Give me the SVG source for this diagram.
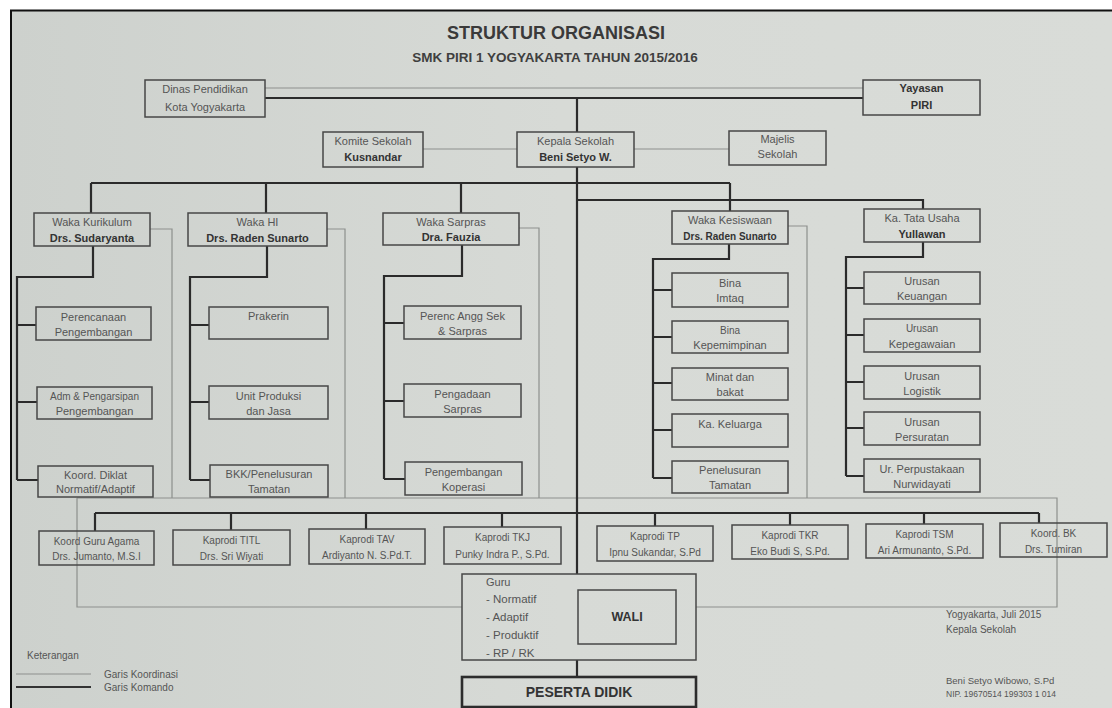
<svg xmlns="http://www.w3.org/2000/svg" width="1112" height="708" viewBox="0 0 1112 708">
<defs>
<linearGradient id="paper" x1="0" y1="0" x2="1" y2="0">
<stop offset="0" stop-color="#cdd1cd"/>
<stop offset="0.5" stop-color="#d7dad6"/>
<stop offset="1" stop-color="#d9dcd8"/>
</linearGradient>
<style>
.box{fill:none;stroke:#474747;stroke-width:1.5}
.thick{fill:none;stroke:#2c2c2c;stroke-width:2.6}
.cmd{fill:none;stroke:#2b2b2b;stroke-width:2.2}
.crd{fill:none;stroke:#8d908d;stroke-width:1.2}
text{font-family:"Liberation Sans",Arial,sans-serif;font-size:11px;fill:#555;text-anchor:middle}
.b{font-weight:bold;fill:#333}
.l{text-anchor:start}
.sm{font-size:10px}
</style>
</defs>
<rect width="1112" height="708" fill="#ffffff"/>
<rect x="11" y="10" width="1101" height="698" fill="url(#paper)"/>
<path d="M10,10.5 H1112 M11,10 V708" stroke="#111" stroke-width="2" fill="none"/>

<g id="title">
<text x="556" y="39" class="b" style="font-size:18px;fill:#3a3a3a">STRUKTUR ORGANISASI</text>
<text x="555" y="62" class="b" style="font-size:13.5px;fill:#3f3f3f">SMK PIRI 1 YOGYAKARTA TAHUN 2015/2016</text>
</g>

<g id="connectors">
<path class="crd" d="M265,88 H863 M423,149 H517 M634,149 H729 M150,229 H172 V498 M327,229 H345 V498 M519,228 H539 V498 M788,226 H807 V498 M77,498 H1057 V607 H696 M462,607 H77 V498"/>
<path class="cmd" d="M265,98 H863 M577,98 V132 M577,167 V574 M577,660 V677"/>
<path class="cmd" d="M91,183 H730 M91,183 V213 M266,183 V213 M461,183 V213 M730,183 V211 M577,200 H923 V209"/>
<path class="cmd" d="M93,246 V277 H17 V480 M17,325 H36 M17,402 H37 M17,480 H38"/>
<path class="cmd" d="M267,246 V277 H190 V480 M190,325 H209 M190,402 H209 M190,480 H210"/>
<path class="cmd" d="M462,245 V276 H384 V479 M384,323 H404 M384,401 H404 M384,479 H405"/>
<path class="cmd" d="M729,244 V259 H653 V478 M653,290 H672 M653,337 H672 M653,383 H672 M653,430 H672 M653,478 H672"/>
<path class="cmd" d="M923,242 V257 H846 V476 M846,288 H864 M846,335 H864 M846,382 H864 M846,428 H864 M846,476 H864"/>
<path class="cmd" d="M95,513 H1039 M95,513 V531 M231,513 V530 M366,513 V529 M502,513 V527 M655,513 V526 M790,513 V525 M924,513 V524 M1039,513 V523"/>
</g>

<g id="dinas"><rect class="box" x="145" y="80" width="120" height="37" fill="none"/><text x="205" y="93">Dinas Pendidikan</text><text x="205" y="111">Kota Yogyakarta</text></g>
<g id="yayasan"><rect class="box" x="863" y="80" width="117" height="35"/><text x="921.5" y="92" class="b">Yayasan</text><text x="921.5" y="109" class="b">PIRI</text></g>
<g id="komite"><rect class="box" x="323" y="132" width="100" height="35"/><text x="373" y="145">Komite Sekolah</text><text x="373" y="161" class="b">Kusnandar</text></g>
<g id="kepala"><rect class="box" x="517" y="132" width="117" height="35"/><text x="575.5" y="145">Kepala Sekolah</text><text x="575.5" y="161" class="b">Beni Setyo W.</text></g>
<g id="majelis"><rect class="box" x="729" y="131" width="97" height="34"/><text x="777.5" y="143">Majelis</text><text x="777.5" y="158">Sekolah</text></g>

<g id="waka-kurikulum"><rect class="box" x="34" y="213" width="116" height="33"/><text x="92" y="225.5">Waka Kurikulum</text><text x="92" y="241.5" class="b">Drs. Sudaryanta</text></g>
<g id="waka-hi"><rect class="box" x="188" y="213" width="139" height="33"/><text x="257.5" y="225.5">Waka HI</text><text x="257.5" y="241.5" class="b">Drs. Raden Sunarto</text></g>
<g id="waka-sarpras"><rect class="box" x="383" y="213" width="136" height="32"/><text x="451" y="225.5">Waka Sarpras</text><text x="451" y="241" class="b">Dra. Fauzia</text></g>
<g id="waka-kesiswaan"><rect class="box" x="672" y="211" width="116" height="33"/><text x="730" y="223.5">Waka Kesiswaan</text><text x="730" y="239.5" class="b sm">Drs. Raden Sunarto</text></g>
<g id="ka-tata-usaha"><rect class="box" x="864" y="209" width="116" height="33"/><text x="922" y="221.5">Ka. Tata Usaha</text><text x="922" y="237.5" class="b">Yullawan</text></g>

<g id="perencanaan"><rect class="box" x="36" y="307" width="115" height="33"/><text x="93.5" y="320.5">Perencanaan</text><text x="93.5" y="335.5">Pengembangan</text></g>
<g id="adm-pengarsipan"><rect class="box" x="37" y="387" width="115" height="32"/><text x="94.5" y="400" class="sm">Adm &amp; Pengarsipan</text><text x="94.5" y="415">Pengembangan</text></g>
<g id="koord-diklat"><rect class="box" x="38" y="466" width="115" height="31"/><text x="95.5" y="478.5">Koord. Diklat</text><text x="95.5" y="493">Normatif/Adaptif</text></g>

<g id="prakerin"><rect class="box" x="209" y="307" width="119" height="32"/><text x="268.5" y="320">Prakerin</text></g>
<g id="unit-produksi"><rect class="box" x="209" y="386" width="119" height="33"/><text x="268.5" y="399.5">Unit Produksi</text><text x="268.5" y="414.5">dan Jasa</text></g>
<g id="bkk"><rect class="box" x="210" y="465" width="118" height="32"/><text x="269" y="478">BKK/Penelusuran</text><text x="269" y="493">Tamatan</text></g>

<g id="perenc-angg"><rect class="box" x="404" y="306" width="117" height="33"/><text x="462.5" y="319.5">Perenc Angg Sek</text><text x="462.5" y="334.5">&amp; Sarpras</text></g>
<g id="pengadaan"><rect class="box" x="404" y="384" width="117" height="33"/><text x="462.5" y="397.5">Pengadaan</text><text x="462.5" y="412.5">Sarpras</text></g>
<g id="pengembangan-koperasi"><rect class="box" x="405" y="462" width="117" height="33"/><text x="463.5" y="475.5">Pengembangan</text><text x="463.5" y="490.5">Koperasi</text></g>

<g id="bina-imtaq"><rect class="box" x="672" y="273" width="116" height="34"/><text x="730" y="286.5">Bina</text><text x="730" y="302">Imtaq</text></g>
<g id="bina-kepemimpinan"><rect class="box" x="672" y="321" width="116" height="32"/><text x="730" y="334" class="sm">Bina</text><text x="730" y="349">Kepemimpinan</text></g>
<g id="minat-bakat"><rect class="box" x="672" y="368" width="116" height="32"/><text x="730" y="381">Minat dan</text><text x="730" y="396">bakat</text></g>
<g id="ka-keluarga"><rect class="box" x="672" y="414" width="116" height="33"/><text x="730" y="427.5">Ka. Keluarga</text></g>
<g id="penelusuran-tamatan"><rect class="box" x="672" y="461" width="116" height="32"/><text x="730" y="474">Penelusuran</text><text x="730" y="489">Tamatan</text></g>

<g id="urusan-keuangan"><rect class="box" x="864" y="272" width="116" height="32"/><text x="922" y="285">Urusan</text><text x="922" y="300">Keuangan</text></g>
<g id="urusan-kepegawaian"><rect class="box" x="864" y="319" width="116" height="33"/><text x="922" y="332" class="sm">Urusan</text><text x="922" y="347.5">Kepegawaian</text></g>
<g id="urusan-logistik"><rect class="box" x="864" y="366" width="116" height="33"/><text x="922" y="379.5">Urusan</text><text x="922" y="394.5">Logistik</text></g>
<g id="urusan-persuratan"><rect class="box" x="864" y="412" width="116" height="33"/><text x="922" y="425.5">Urusan</text><text x="922" y="440.5">Persuratan</text></g>
<g id="ur-perpustakaan"><rect class="box" x="864" y="459" width="116" height="33"/><text x="922" y="472.5">Ur. Perpustakaan</text><text x="922" y="487.5">Nurwidayati</text></g>

<g id="koord-guru-agama"><rect class="box" x="39" y="531" width="115" height="34"/><text x="96.5" y="544.5" class="sm">Koord Guru Agama</text><text x="96.5" y="560" class="sm">Drs. Jumanto, M.S.I</text></g>
<g id="kaprodi-titl"><rect class="box" x="173" y="530" width="117" height="35"/><text x="231.5" y="543.5" class="sm">Kaprodi TITL</text><text x="231.5" y="559.5" class="sm">Drs. Sri Wiyati</text></g>
<g id="kaprodi-tav"><rect class="box" x="309" y="529" width="116" height="35"/><text x="367" y="542.5" class="sm">Kaprodi TAV</text><text x="367" y="558.5" class="sm">Ardiyanto N. S.Pd.T.</text></g>
<g id="kaprodi-tkj"><rect class="box" x="444" y="527" width="117" height="37"/><text x="502.5" y="541" class="sm">Kaprodi TKJ</text><text x="502.5" y="558" class="sm">Punky Indra P., S.Pd.</text></g>
<g id="kaprodi-tp"><rect class="box" x="597" y="526" width="116" height="35"/><text x="655" y="539.5" class="sm">Kaprodi TP</text><text x="655" y="555.5" class="sm">Ipnu Sukandar, S.Pd</text></g>
<g id="kaprodi-tkr"><rect class="box" x="732" y="525" width="116" height="34"/><text x="790" y="538.5" class="sm">Kaprodi TKR</text><text x="790" y="554.5" class="sm">Eko Budi S, S.Pd.</text></g>
<g id="kaprodi-tsm"><rect class="box" x="866" y="524" width="117" height="34"/><text x="924.5" y="537.5" class="sm">Kaprodi TSM</text><text x="924.5" y="553.5" class="sm">Ari Armunanto, S.Pd.</text></g>
<g id="koord-bk"><rect class="box" x="1000" y="523" width="107" height="34" fill="#d9dcd8"/><text x="1053.5" y="536.5" class="sm">Koord. BK</text><text x="1053.5" y="552.5" class="sm">Drs. Tumiran</text></g>

<g id="guru"><rect class="box" x="462" y="574" width="234" height="86"/>
<text x="486" y="586" class="l" style="font-size:11px">Guru</text>
<text x="486" y="603" class="l" style="font-size:11.5px">- Normatif</text>
<text x="486" y="621" class="l" style="font-size:11.5px">- Adaptif</text>
<text x="486" y="639" class="l" style="font-size:11.5px">- Produktif</text>
<text x="486" y="657" class="l" style="font-size:11.5px">- RP / RK</text>
</g>
<g id="wali"><rect class="box" x="578" y="590" width="98" height="54"/><text x="627" y="621" class="b" style="font-size:12.5px">WALI</text></g>
<g id="peserta-didik"><rect class="thick" x="462" y="677" width="234" height="30"/><text x="579" y="697" class="b" style="font-size:14px">PESERTA DIDIK</text></g>

<g id="legend">
<text x="27" y="659" class="l sm">Keterangan</text>
<path class="crd" d="M16,674 H91"/>
<path d="M16,687 H91" stroke="#333" stroke-width="1.8"/>
<text x="104" y="677.5" class="l sm">Garis Koordinasi</text>
<text x="104" y="690.5" class="l sm">Garis Komando</text>
</g>

<g id="signature">
<text x="946" y="618" class="l sm">Yogyakarta,  Juli 2015</text>
<text x="946" y="633" class="l sm">Kepala Sekolah</text>
<text x="946" y="684" class="l" style="font-size:9.5px">Beni Setyo Wibowo, S.Pd</text>
<text x="946" y="697" class="l" style="font-size:8.5px">NIP. 19670514 199303 1 014</text>
</g>
</svg>
